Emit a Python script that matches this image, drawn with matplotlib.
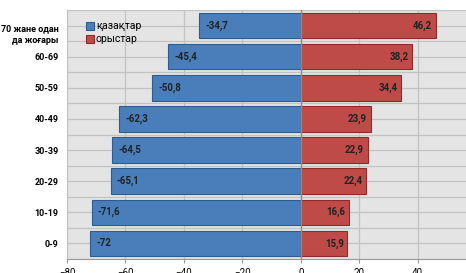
import numpy as np
import matplotlib.pyplot as plt
from matplotlib.transforms import offset_copy

plt.rcParams['font.family'] = ['Roboto', 'DejaVu Sans']

groups = ["0-9", "10-19", "20-29", "30-39", "40-49", "50-59", "60-69", "70 жане одан\nда жоғары"]
kazakh = [-72, -71.6, -65.1, -64.5, -62.3, -50.8, -45.4, -34.7]
russian = [15.9, 16.6, 22.4, 22.9, 23.9, 34.4, 38.2, 46.2]
xticks = [-80, -60, -40, -20, 0, 20, 40, 60]

def fmt(v):
    s = ("%.1f" % v).rstrip("0").rstrip(".")
    return s.replace(".", ",")

fig = plt.figure(figsize=(4.66, 2.73), dpi=100)
ax = fig.add_axes([67/466, 1 - 259/273, (476 - 67)/466, (259 - 10)/273])
ax.set_facecolor("#e4e4e4")

y = np.arange(len(groups))
ax.barh(y, kazakh, height=0.82, color="#4a7ebb", edgecolor="#2c5d8f", linewidth=0.8, label="қазақтар", zorder=3)
ax.barh(y, russian, height=0.82, color="#be4b48", edgecolor="#8e2a28", linewidth=0.8, label="орыстар", zorder=3)

for i in range(len(groups)):
    ax.text(kazakh[i] + 2.2, y[i], fmt(kazakh[i]), va="center", ha="left",
            fontsize=7, fontweight="bold", color="#222222", zorder=4)
    ax.text(russian[i] - 1.2, y[i], fmt(russian[i]), va="center", ha="right",
            fontsize=7, fontweight="bold", color="#222222", zorder=4)

ax.set_xlim(-80, 60)
ax.set_ylim(-0.5, len(groups) - 0.5)
ax.set_xticks(xticks)
ax.set_yticks(y)
ax.set_yticklabels(groups, fontsize=6.5, fontweight="bold", linespacing=1.3)
ax.set_yticks(np.arange(-0.5, len(groups), 1.0), minor=True)
ax.tick_params(axis="x", labelsize=7, length=3, color="#999999")
ax.tick_params(axis="y", which="both", length=0, pad=6)

# top label sits lower in the original
top = ax.get_yticklabels()[-1]
top.set_transform(offset_copy(top.get_transform(), fig=fig, y=-7, units="dots"))

ax.grid(True, which="major", color="#c2c2c2", linewidth=0.9, zorder=0)
ax.grid(True, which="minor", axis="y", color="#c2c2c2", linewidth=0.9, zorder=0)
ax.axvline(0, color="#8a8a8a", linewidth=1.0, zorder=5)
for s in ["top", "right"]:
    ax.spines[s].set_visible(False)
ax.spines["left"].set_color("#c2c2c2")
ax.spines["bottom"].set_color("#999999")

ax.legend(loc="upper left", bbox_to_anchor=(0.03, 0.98), frameon=False, fontsize=7.5,
          handlelength=0.8, handleheight=0.8, handletextpad=0.2, labelspacing=0.3,
          borderaxespad=0.2)

fig.savefig("out.png", dpi=100)
